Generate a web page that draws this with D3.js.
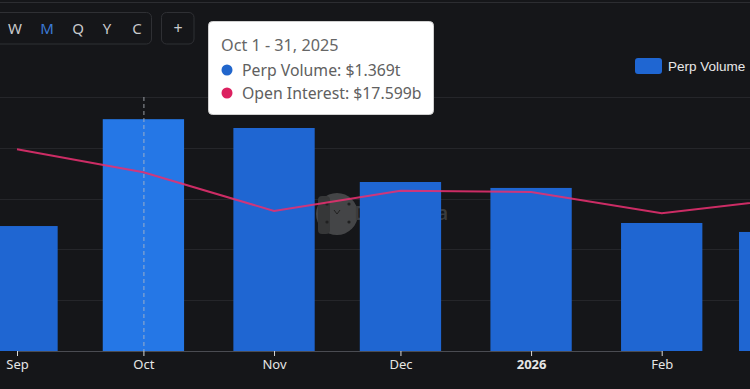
<!DOCTYPE html>
<html>
<head>
<meta charset="utf-8">
<script src="https://cdn.jsdelivr.net/npm/d3@7"></script>
<style>
    body { margin: 0; background: #151619; }
    svg { display: block; }
</style>
</head>
<body>
<svg id="chart" width="750" height="389"></svg>
<script>
// months shown (first day of month)
const months = ["2025-09-01", "2025-10-01", "2025-11-01", "2025-12-01", "2026-01-01", "2026-02-01", "2026-03-01"];
const tick_labels = ["Sep", "Oct", "Nov", "Dec", "2026", "Feb", "Mar"];
// perp volume in billions
const perp_volume = [738, 1369, 1317, 998, 963, 756, 703];
// open interest in billions
const open_interest = [19.85, 17.599, 13.78, 15.78, 15.65, 13.55, 14.9];
const vol_ticks = [0, 300, 600, 900, 1200, 1500];
const periods = ["W", "M", "Q", "Y", "C"];

const svg = d3.select("#chart");
const parse = d3.utcParse("%Y-%m-%d");
const data = months.map(function (m, i) {
    return { date: parse(m), label: tick_labels[i], vol: perp_volume[i], oi: open_interest[i] }
});

const baseline = 351;

let x = d3.scaleUtc()
    .domain([parse("2025-09-01"), parse("2026-02-01")])
    .range([17, 661.7])
let y = d3.scaleLinear()
    .domain([0, 1500])
    .range([baseline, 97])
let y_oi = d3.scaleLinear()
    .domain([0, 25])
    .range([baseline, 97])

const bar_w = (x(parse("2026-02-01")) - x(parse("2025-09-01"))) / 153 * 19.3;

// top border
svg.append("line")
    .attr("x1", 0).attr("x2", 750).attr("y1", 2.5).attr("y2", 2.5)
    .attr("stroke", "#2c2d31")

// gridlines
svg.append("g")
    .selectAll("line")
    .data(vol_ticks.slice(1))
    .join("line")
    .attr("x1", 0).attr("x2", 750)
    .attr("y1", d => Math.round(y(d)) + 0.5)
    .attr("y2", d => Math.round(y(d)) + 0.5)
    .attr("stroke", "#25262a")

// watermark behind bars
const wm = svg.append("g").attr("opacity", 0.9);
wm.append("circle").attr("cx", 337).attr("cy", 214).attr("r", 21).attr("fill", "#4a4b4c")
wm.append("rect").attr("x", 318).attr("y", 196).attr("width", 12).attr("height", 38).attr("rx", 4).attr("fill", "#3a3b3c")
wm.append("circle").attr("cx", 327).attr("cy", 204).attr("r", 1.6).attr("fill", "#222")
wm.append("circle").attr("cx", 349).attr("cy", 204).attr("r", 1.6).attr("fill", "#222")
wm.append("circle").attr("cx", 327).attr("cy", 222).attr("r", 1.6).attr("fill", "#222")
wm.append("circle").attr("cx", 349).attr("cy", 222).attr("r", 1.6).attr("fill", "#222")
wm.append("path").attr("d", "M334,210 l3,4 l3,-4").attr("stroke", "#222").attr("fill", "none")
wm.append("text")
    .attr("x", 448).attr("y", 220)
    .attr("text-anchor", "end")
    .attr("font-family", "Noto Sans, sans-serif")
    .attr("font-size", "19px")
    .attr("font-weight", 600)
    .attr("fill", "#3f4042")
    .text("DefiLlama")

// bars
svg.append("g")
    .selectAll("rect")
    .data(data)
    .join("rect")
    .attr("x", d => x(d.date) - bar_w / 2)
    .attr("width", bar_w)
    .attr("y", d => y(d.vol))
    .attr("height", d => baseline - y(d.vol))
    .attr("fill", function (d) {
        // hovered month is lighter
        if (d.label == "Oct") { return "#2577e6" }
        return "#1f66d2"
    })

// crosshair
svg.append("line")
    .attr("x1", x(data[1].date) + 0.5).attr("x2", x(data[1].date) + 0.5)
    .attr("y1", 97).attr("y2", baseline)
    .attr("stroke", "#b9bcc4")
    .attr("stroke-dasharray", "4,3")
    .attr("opacity", 0.8)

// open interest line
svg.append("path")
    .datum(data)
    .attr("fill", "none")
    .attr("stroke", "#e6306f")
    .attr("stroke-opacity", 0.88)
    .attr("stroke-width", 2)
    .attr("d", d3.line().x(d => x(d.date)).y(d => y_oi(d.oi)))

// x axis (last month sits past the right edge)
const xaxis = svg.append("g")
    .attr("transform", `translate(0,${baseline})`)
    .call(d3.axisBottom(x)
        .tickValues(data.slice(0, 6).map(d => d.date))
        .tickSize(5)
        .tickSizeOuter(0)
        .tickFormat((d, i) => tick_labels[i]))
xaxis.select(".domain").attr("stroke", "#4a4c52")
xaxis.selectAll(".tick line").attr("stroke", "#d8d8d8")
xaxis.selectAll(".tick text")
    .attr("fill", "#e6e6e6")
    .attr("y", 9)
    .attr("font-family", "Noto Sans, sans-serif")
    .attr("font-size", "13px")
    .attr("font-weight", (d, i) => tick_labels[i] == "2026" ? 700 : 400)

// period buttons
svg.append("rect")
    .attr("x", -10).attr("y", 12.5).attr("width", 161.5).attr("height", 31.5)
    .attr("rx", 5).attr("fill", "none").attr("stroke", "#2f3034")
svg.append("g")
    .selectAll("text")
    .data(periods)
    .join("text")
    .attr("x", (d, i) => [15, 47, 78, 107, 137][i])
    .attr("y", 33.5)
    .attr("text-anchor", "middle")
    .attr("font-family", "Noto Sans, sans-serif")
    .attr("font-size", "15px")
    .attr("fill", d => d == "M" ? "#3b7ad6" : "#c8c9cc")
    .text(d => d)
svg.append("rect")
    .attr("x", 161.5).attr("y", 12.5).attr("width", 32.5).attr("height", 31.5)
    .attr("rx", 5).attr("fill", "none").attr("stroke", "#2f3034")
svg.append("text")
    .attr("x", 178).attr("y", 33.5)
    .attr("text-anchor", "middle")
    .attr("font-family", "Noto Sans, sans-serif")
    .attr("font-size", "16px")
    .attr("fill", "#c8c9cc")
    .text("+")

// legend
svg.append("rect")
    .attr("x", 635).attr("y", 58).attr("width", 27).attr("height", 16)
    .attr("rx", 3).attr("fill", "#1f66d2")
svg.append("text")
    .attr("x", 668).attr("y", 71)
    .attr("font-family", "Liberation Sans, Arial, sans-serif")
    .attr("font-size", "13.5px")
    .attr("fill", "#e8e8e8")
    .text("Perp Volume")

// tooltip
const tip = svg.append("g");
tip.append("rect")
    .attr("x", 208.5).attr("y", 21.5).attr("width", 225).attr("height", 93)
    .attr("rx", 4).attr("fill", "#ffffff").attr("stroke", "#d0d0d0")
tip.append("text")
    .attr("x", 221).attr("y", 51)
    .attr("font-family", "Noto Sans, sans-serif")
    .attr("font-size", "16.2px")
    .attr("fill", "#666")
    .text("Oct 1 - 31, 2025")
const tip_rows = [
    { color: "#2166cc", text: "Perp Volume: $1.369t" },
    { color: "#dc2160", text: "Open Interest: $17.599b" }
];
tip.selectAll(".row")
    .data(tip_rows)
    .join("g")
    .attr("class", "row")
    .attr("transform", (d, i) => `translate(0,${70 + i * 23})`)
    .each(function (d) {
        d3.select(this).append("circle")
            .attr("cx", 227).attr("cy", 0).attr("r", 5.5).attr("fill", d.color)
        d3.select(this).append("text")
            .attr("x", 242).attr("y", 5.5)
            .attr("font-family", "Noto Sans, sans-serif")
            .attr("font-size", "15.8px")
            .attr("fill", "#606060")
            .text(d.text)
    })
</script>
</body>
</html>
